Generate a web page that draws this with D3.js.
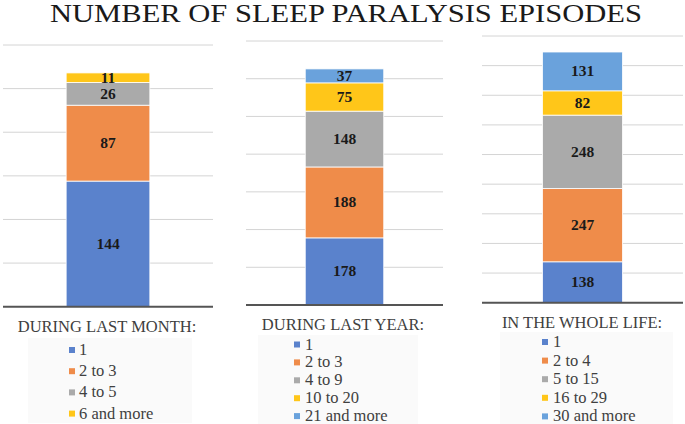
<!DOCTYPE html>
<html>
<head>
<meta charset="utf-8">
<script src="https://cdn.jsdelivr.net/npm/d3@7"></script>
<style>
  body { margin: 0; background: #fff; }
</style>
</head>
<body>
<script>
// chart data
var chartTitle = 'NUMBER OF SLEEP PARALYSIS EPISODES';
var panelTitles = ['DURING LAST MONTH:', 'DURING LAST YEAR:', 'IN THE WHOLE LIFE:'];

var monthCats = ['1', '2 to 3', '4 to 5', '6 and more'];
var monthVals = [144, 87, 26, 11];

var yearCats = ['1', '2 to 3', '4 to 9', '10 to 20', '21 and more'];
var yearVals = [178, 188, 148, 75, 37];

var lifeCats = ['1', '2 to 4', '5 to 15', '16 to 29', '30 and more'];
var lifeVals = [138, 247, 248, 82, 131];

var axisMax = [300, 700, 900];
var tickStep = [50, 100, 100];

var colors = ['#5a82cc', '#ef8c4a', '#aaaaaa', '#ffc619', '#6aa2dc'];
var serif = '"Liberation Serif", "Times New Roman", serif';

// panel layout (pixels)
var layout = [
  {x0: 3,   x1: 213, yBase: 306.7, yTop: 45, legTitleX: 107, legTitleY: 332,
   box: [28, 338, 164, 85],  sqX: 69,  txtX: 79,  rowY: 350,   rowGap: 21.2},
  {x0: 246, x1: 443, yBase: 305,   yTop: 41, legTitleX: 343, legTitleY: 330,
   box: [258, 335, 160, 89], sqX: 294, txtX: 305, rowY: 344.5, rowGap: 17.9},
  {x0: 482, x1: 683, yBase: 302.7, yTop: 36, legTitleX: 582, legTitleY: 328,
   box: [500, 332, 173, 92], sqX: 542, txtX: 553, rowY: 342,   rowGap: 18.6}
];

var panels = [
  {cats: monthCats, vals: monthVals},
  {cats: yearCats, vals: yearVals},
  {cats: lifeCats, vals: lifeVals}
];

var svg = d3.select('body').append('svg')
    .attr('width', 685)
    .attr('height', 424);

// main title
svg.append('text')
    .attr('x', 50)
    .attr('y', 22)
    .attr('textLength', 592)
    .attr('lengthAdjust', 'spacingAndGlyphs')
    .attr('font-family', serif)
    .attr('font-size', 25)
    .attr('fill', '#1a1a1a')
    .text(chartTitle);

panels.forEach(function(p, i) {
    var L = layout[i];
    var g = svg.append('g');

    var y = d3.scaleLinear().domain([0, axisMax[i]]).range([L.yBase, L.yTop]);
    var x = d3.scaleBand().domain([panelTitles[i]]).range([L.x0, L.x1])
        .paddingInner(0.43).paddingOuter(0.43);

    // gridlines
    var ticks = d3.range(tickStep[i], axisMax[i] + 1, tickStep[i]);
    g.selectAll('.grid')
        .data(ticks)
      .enter().append('line')
        .attr('x1', L.x0).attr('x2', L.x1)
        .attr('y1', function(d) { return y(d); })
        .attr('y2', function(d) { return y(d); })
        .attr('stroke', '#d4d4d4')
        .attr('stroke-width', 1);

    // stack the segments
    var stacked = [];
    var acc = 0;
    p.vals.forEach(function(v, k) {
        stacked.push({v: v, y0: acc, y1: acc + v, k: k});
        acc += v;
    });

    g.selectAll('.seg')
        .data(stacked)
      .enter().append('rect')
        .attr('x', x(panelTitles[i]))
        .attr('width', x.bandwidth())
        .attr('y', function(d) { return y(d.y1); })
        .attr('height', function(d) { return y(d.y0) - y(d.y1); })
        .attr('fill', function(d) { return colors[d.k]; })
        .attr('stroke', '#fff')
        .attr('stroke-width', 0.8);

    g.selectAll('.lbl')
        .data(stacked)
      .enter().append('text')
        .attr('x', x(panelTitles[i]) + x.bandwidth() / 2)
        .attr('y', function(d) { return (y(d.y0) + y(d.y1)) / 2 + 5; })
        .attr('text-anchor', 'middle')
        .attr('font-family', serif)
        .attr('font-size', 15.5)
        .attr('font-weight', 'bold')
        .attr('fill', '#1a1a1a')
        .text(function(d) { return d.v; });

    // baseline
    g.append('line')
        .attr('x1', L.x0).attr('x2', L.x1)
        .attr('y1', y(0)).attr('y2', y(0))
        .attr('stroke', '#555')
        .attr('stroke-width', 2);

    // legend
    g.append('rect')
        .attr('x', L.box[0]).attr('y', L.box[1])
        .attr('width', L.box[2]).attr('height', L.box[3])
        .attr('fill', '#fafafa');

    g.append('text')
        .attr('x', L.legTitleX)
        .attr('y', L.legTitleY)
        .attr('text-anchor', 'middle')
        .attr('font-family', serif)
        .attr('font-size', 16.5)
        .attr('fill', '#404040')
        .text(panelTitles[i]);

    var items = g.selectAll('.leg')
        .data(p.cats)
      .enter().append('g')
        .attr('transform', function(d, k) { return 'translate(0,' + (L.rowY + k * L.rowGap) + ')'; });

    items.append('rect')
        .attr('x', L.sqX).attr('y', -3)
        .attr('width', 6).attr('height', 6)
        .attr('fill', function(d, k) { return colors[k]; });

    items.append('text')
        .attr('x', L.txtX)
        .attr('y', 5)
        .attr('font-family', serif)
        .attr('font-size', 16.5)
        .attr('fill', '#404040')
        .text(function(d) { return d; });
});
</script>
</body>
</html>
